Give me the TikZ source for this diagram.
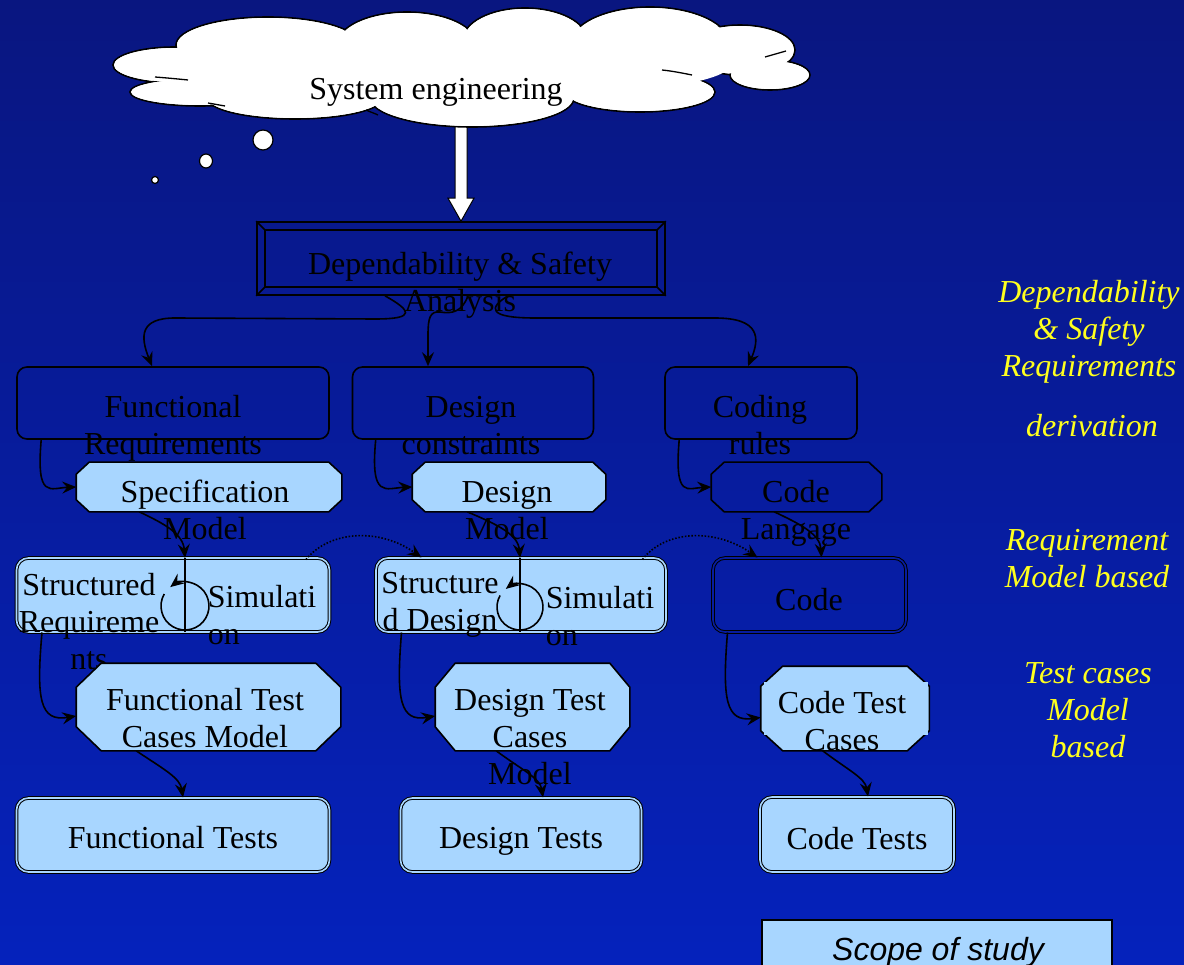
\documentclass[tikz,border=0pt]{standalone}
\usepackage{fontspec}
\setmainfont{Liberation Serif}
\setsansfont{Liberation Sans}
\usetikzlibrary{shapes.geometric,arrows.meta,calc}

\definecolor{bgtop}{RGB}{9,22,128}
\definecolor{bgbot}{RGB}{5,34,188}
\definecolor{bgmid}{RGB}{7,28,160}
\definecolor{pale}{RGB}{168,214,255}
\definecolor{note}{RGB}{255,255,30}

% stacked lines whose first baseline is the box baseline
\newcommand{\lines}[1]{\begin{tabular}[t]{@{}c@{}}#1\end{tabular}}
\newcommand{\leftlines}[1]{\begin{tabular}[t]{@{}l@{}}#1\end{tabular}}

% octagon drawn around a plain rectangular node
\newcommand{\octpath}[4]{%
  \path[#4] ($(#1.north west)+(#2,0)$) -- ($(#1.north east)+(-#2,0)$)
    -- ($(#1.north east)+(0,#3)$) -- ($(#1.south east)+(0,-#3)$)
    -- ($(#1.south east)+(-#2,0)$) -- ($(#1.south west)+(#2,0)$)
    -- ($(#1.south west)+(0,-#3)$) -- ($(#1.north west)+(0,#3)$) -- cycle;}

\begin{document}
\begin{tikzpicture}[x=1pt,y=-1pt,
  font=\fontsize{32}{37}\selectfont,
  line width=1.6pt,
  label/.style={inner sep=0pt,anchor=base},
  frame/.style={draw,rounded corners=10pt,inner sep=0pt},
  slot/.style={inner sep=0pt,draw=none},
  dframe/.style={draw,double=pale,double distance=1.6pt,line width=1pt,
                 rounded corners=12pt,fill=pale,inner sep=0pt},
  darkframe/.style={draw,double=bgmid,double distance=1.6pt,line width=1pt,
                 rounded corners=12pt,inner sep=0pt},
  octpale/.style={draw,fill=pale,line width=1.6pt},
  octdark/.style={draw,line width=1.6pt},
  arr/.style={-{Stealth[length=14pt,width=12pt,inset=5pt]}},
  bubble/.style={ellipse,draw,fill=white,line width=1.2pt,inner sep=0pt},
  note/.style={inner sep=0pt,anchor=base,text=note,font=\fontsize{32}{37}\selectfont\itshape}]

% background
\shade[top color=bgtop,bottom color=bgbot] (0,0) rectangle (1184,965);
\useasboundingbox (0,0) rectangle (1184,965);

% ---- system engineering cloud and thought bubbles
\coordinate (cloudfoot) at (461,122);
\node[draw,minimum width=408pt,minimum height=73pt,inner sep=0pt] (dep) at (461,258.5) {};
\draw[fill=white,line width=1pt] ($(cloudfoot)+(-6,0)$) -- ($(dep.north)+(-6,-23)$)
  -- ($(dep.north)+(-13,-23)$) -- (dep.north) -- ($(dep.north)+(13,-23)$)
  -- ($(dep.north)+(6,-23)$) -- ($(cloudfoot)+(6,0)$);
% cloud: outlined lobes, then their interiors painted over
\def\lobes{175/65/62/18, 200/92/70/14, 268/45/92/28, 407/45/70/33, 525/40/62/32,
  650/45/80/38, 740/50/55/25, 770/75/40/15, 640/92/75/20, 472/98/102/29, 295/98/88/21}
\foreach \cx/\cy/\rx/\ry in \lobes
  \draw[fill=white,line width=1.6pt] (\cx,\cy) ellipse[x radius=\rx,y radius=\ry];
\foreach \cx/\cy/\rx/\ry in \lobes
  \fill[white] (\cx,\cy) ellipse[x radius=\rx-1.2,y radius=\ry-1.2];
\fill[white] (450,65) ellipse[x radius=280,y radius=35];
\begin{scope}[line width=1.3pt]
  \draw (155,77) .. controls (168,78) and (178,79) .. (188,80);
  \draw (208,103) .. controls (214,104) and (219,105) .. (225,106);
  \draw (765,57) .. controls (772,55) and (779,53) .. (786,51);
  \draw (662,70) .. controls (672,71) and (682,73) .. (692,75);
  \draw (366,110) .. controls (370,112) and (374,113) .. (378,115);
\end{scope}
\node[label] (setext) at (436,100) {System engineering};
\node[bubble,minimum width=20pt,minimum height=20pt] (b1) at (263,140) {};
\node[bubble,minimum width=13pt,minimum height=14pt] (b2) at (206,161) {};
\node[bubble,minimum width=7pt,minimum height=7pt] (b3) at (155,180) {};

% ---- dependability & safety analysis (bevelled frame)
\draw ($(dep.north west)+(9,9)$) rectangle ($(dep.south east)+(-9,-9)$);
\draw (dep.north west) -- +(9,9);
\draw (dep.north east) -- +(-9,9);
\draw (dep.south west) -- +(9,-9);
\draw (dep.south east) -- +(-9,-9);
\node[label] (deptext) at (460,275) {\lines{Dependability \& Safety\\Analysis}};

% ---- requirement sources
\node[frame,minimum width=312pt,minimum height=72pt] (fr) at (173,403) {};
\node[frame,minimum width=241pt,minimum height=72pt] (dc) at (473,403) {};
\node[frame,minimum width=192pt,minimum height=72pt] (cr) at (761,403) {};
\node[label] (frt) at (173,418) {\lines{Functional\\Requirements}};
\node[label] (dct) at (471,418) {\lines{Design\\constraints}};
\node[label] (crt) at (760,418) {\lines{Coding\\rules}};

% ---- models
\node[slot,minimum width=264pt,minimum height=48pt] (spec) at (209,487) {};
\node[slot,minimum width=192pt,minimum height=48pt] (dm) at (509,487) {};
\node[slot,minimum width=169pt,minimum height=48pt] (cl) at (796.5,487) {};
\octpath{spec}{13}{12}{octpale}
\octpath{dm}{13}{12}{octpale}
\octpath{cl}{13}{12}{octdark}
\node[label] (spect) at (205,502) {\lines{Specification\\Model}};
\node[label] (dmt) at (507,502) {\lines{Design\\Model}};
\node[label] (clt) at (796,502) {\lines{Code\\Langage}};

% ---- structured artefacts with simulation loops
\node[dframe,minimum width=313pt,minimum height=74pt] (sr) at (173,595) {};
\node[dframe,minimum width=290pt,minimum height=74pt] (sd) at (521,595) {};
\node[darkframe,minimum width=193pt,minimum height=74pt] (code) at (809.5,595) {};
\coordinate (srtop) at (185,558);
\coordinate (srbot) at (185,632);
\coordinate (sdtop) at (520,558);
\coordinate (sdbot) at (520,632);
\coordinate (srloop) at (185,606);
\coordinate (sdloop) at (520,607);
\draw (srtop) -- (srbot);
\draw (sdtop) -- (sdbot);
\draw[arr] ($(srloop)+(-150:24)$) arc[start angle=-150,end angle=-488,radius=24];
\draw[arr] ($(sdloop)+(-150:23)$) arc[start angle=-150,end angle=-488,radius=23];
\node[label] (srt) at (89,595) {\lines{Structured\\Requireme\\nts}};
\node[label,anchor=base west] (srsim) at (207,607) {\leftlines{Simulati\\on}};
\node[label] (sdt) at (440,593) {\lines{Structure\\d Design}};
\node[label,anchor=base west] (sdsim) at (545,608) {\leftlines{Simulati\\on}};
\node[label] (codet) at (809,610) {Code};

% ---- test case models
\node[slot,minimum width=263pt,minimum height=86pt] (ftcm) at (208.5,707) {};
\node[slot,minimum width=193pt,minimum height=86pt] (dtcm) at (532.5,707) {};
\node[slot,minimum width=167pt,minimum height=83pt] (ctc) at (845,708.5) {};
\octpath{ftcm}{25}{24}{octpale}
\octpath{dtcm}{20}{24}{octpale}
\octpath{ctc}{22}{20}{octpale}
\fill[pale] (764,682) rectangle (770,735);
\fill[pale] (922,682) rectangle (928,735);
\node[label] (ftcmt) at (205,710) {\lines{Functional Test\\Cases Model}};
\node[label] (dtcmt) at (530,710) {\lines{Design Test\\Cases\\Model}};
\node[label] (ctct) at (842,713) {\lines{Code Test\\Cases}};

% ---- tests
\node[dframe,minimum width=313pt,minimum height=74pt] (ft) at (173,835) {};
\node[dframe,minimum width=241pt,minimum height=74pt] (dt) at (521,835) {};
\node[dframe,minimum width=194pt,minimum height=75pt] (ct) at (857,834.5) {};
\node[label] (ftt) at (173,848) {Functional Tests};
\node[label] (dtt) at (521,848) {Design Tests};
\node[label] (ctt) at (857,849) {Code Tests};

% ---- scope legend
\node[draw,fill=pale,minimum width=350pt,minimum height=70pt,inner sep=0pt,anchor=north west,line width=1.5pt] (scope) at (761,919) {};
\node[label,font=\sffamily\itshape\fontsize{32}{37}\selectfont] (scopet) at (938,960) {Scope of study};

% ---- side notes
\node[note] (n1) at (1089,303) {\lines{Dependability\\\& Safety\\Requirements}};
\node[note] (n2) at (1092,437) {derivation};
\node[note] (n3) at (1087,550) {\lines{Requirement\\Model based}};
\node[note] (n4) at (1088,683) {\lines{Test cases\\Model\\based}};

% ---- connectors from the analysis
\draw[arr] ($(dep.south)+(-76,0)$) .. controls (410,310) and (418,319) .. (375,319)
  -- (175,318) .. controls (140,318) and (140,336) .. ($(fr.north)+(-21,0)$);
\draw[arr] ($(dep.south)+(7,0)$) .. controls (462,312) and (452,314) .. (440,312)
  .. controls (430,311) and (428,318) .. (428,335) -- ($(dc.north)+(-45,0)$);
\draw[arr] ($(dep.south)+(47,0)$) .. controls (488,308) and (488,318) .. (535,318)
  -- (715,318) .. controls (760,318) and (760,338) .. ($(cr.north)+(-13,0)$);

% ---- sources to models
\draw[arr] ($(fr.south west)+(25,0)$) .. controls (36,500) and (50,488) .. (spec.west);
\draw[arr] ($(dc.south west)+(24,0)$) .. controls (370,500) and (386,488) .. (dm.west);
\draw[arr] ($(cr.south west)+(15,0)$) .. controls (674,500) and (688,488) .. (cl.west);

% ---- models to structured artefacts
\draw[arr] ($(spec.south west)+(63,0)$) .. controls (165,524) and (183,534) .. (srtop);
\draw[arr] ($(dm.south west)+(55,0)$) .. controls (496,524) and (518,534) .. (sdtop);
\draw[arr] ($(cl.south west)+(63,0)$) .. controls (800,524) and (820,534) .. ($(code.north)+(12,0)$);

% ---- refinement links (dotted)
\draw[arr,dash pattern=on 1.5pt off 1.8pt] ($(sr.north east)+(-24,2)$)
  .. controls (330,530) and (380,528) .. ($(sd.north west)+(46,0)$);
\draw[arr,dash pattern=on 1.5pt off 1.8pt] ($(sd.north east)+(-24,2)$)
  .. controls (665,530) and (715,528) .. ($(code.north west)+(45,0)$);

% ---- artefacts to test case models
\draw[arr] ($(sr.south west)+(26,0)$) .. controls (36,700) and (40,722) .. ($(ftcm.west)+(0,9)$);
\draw[arr] ($(sd.south west)+(26,0)$) .. controls (396,700) and (400,722) .. ($(dtcm.west)+(0,9)$);
\draw[arr] ($(code.south west)+(15,0)$) .. controls (722,700) and (726,722) .. ($(ctc.west)+(0,9)$);

% ---- test case models to tests
\draw[arr] ($(ftcm.south west)+(60,0)$) .. controls (165,770) and (180,778) .. ($(ft.north)+(10,0)$);
\draw[arr] ($(dtcm.south west)+(61,0)$) .. controls (522,770) and (540,778) .. ($(dt.north)+(22,0)$);
\draw[arr] ($(ctc.south west)+(62,0)$) .. controls (848,770) and (865,778) .. ($(ct.north)+(11,0)$);
\end{tikzpicture}
\end{document}
